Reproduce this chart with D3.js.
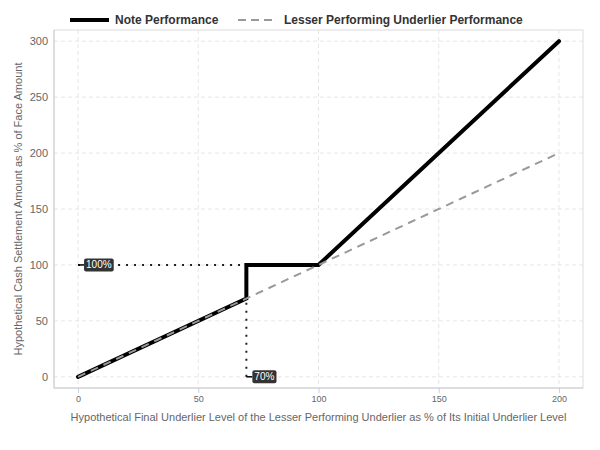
<!DOCTYPE html>
<html><head><meta charset="utf-8">
<script src="https://cdn.jsdelivr.net/npm/d3@7"></script>
<style>body{margin:0;background:#fff}svg{display:block;font-family:"Liberation Sans",Arial,sans-serif}</style>
</head><body><svg id="c" width="600" height="450"></svg>
<script>
const noteX = [0, 70, 70, 100, 200];
const noteY = [0, 70, 100, 100, 300];
const underX = [0, 200];
const underY = [0, 200];
const xTicks = [0, 50, 100, 150, 200];
const yTicks = [0, 50, 100, 150, 200, 250, 300];
const barrier = 70, faceLevel = 100;
const labelX = [0, 70];
const labelY = [100, 0];
const labelText = ["100%", "70%"];

const svg = d3.select("#c");
const L=54,R=583,T=30,B=388;
const x = d3.scaleLinear().domain([-10,210]).range([L,R]);
const y = d3.scaleLinear().domain([-10,310]).range([B,T]);

// grid
const g = svg.append("g");
g.selectAll(".gx").data(xTicks).join("line").attr("x1",d=>x(d)).attr("x2",d=>x(d)).attr("y1",T).attr("y2",B)
 .attr("stroke","#e0e0e0").attr("stroke-dasharray","4,3").attr("stroke-width",0.8);
g.selectAll(".gy").data(yTicks).join("line").attr("y1",d=>y(d)).attr("y2",d=>y(d)).attr("x1",L).attr("x2",R)
 .attr("stroke","#e0e0e0").attr("stroke-dasharray","4,3").attr("stroke-width",0.8);
svg.append("rect").attr("x",L).attr("y",T).attr("width",R-L).attr("height",B-T).attr("fill","none").attr("stroke","#dcdcdc");
svg.append("line").attr("x1",L).attr("x2",R).attr("y1",B).attr("y2",B).attr("stroke","#c9ced6");
svg.append("line").attr("x1",L).attr("x2",L).attr("y1",T).attr("y2",B).attr("stroke","#c9ced6");

// axes
const xa = svg.append("g").attr("transform",`translate(0,${B})`).attr("color","#666")
 .call(d3.axisBottom(x).tickValues(xTicks).tickSize(5).tickPadding(3));
xa.select(".domain").remove();
xa.selectAll("line").attr("stroke","#c9ced6");
xa.selectAll("text").attr("font-size",9);
const ya = svg.append("g").attr("transform",`translate(${L},0)`).attr("color","#666")
 .call(d3.axisLeft(y).tickValues(yTicks).tickSize(0).tickPadding(6));
ya.select(".domain").remove();
ya.selectAll("text").attr("font-size",11);

svg.append("text").attr("x",(L+R)/2).attr("y",421).attr("text-anchor","middle").attr("fill","#666").attr("font-size",11)
 .text("Hypothetical Final Underlier Level of the Lesser Performing Underlier as % of Its Initial Underlier Level");
svg.append("text").attr("transform",`translate(22,${(T+B)/2}) rotate(-90)`).attr("text-anchor","middle").attr("fill","#666").attr("font-size",11)
 .text("Hypothetical Cash Settlement Amount as % of Face Amount");

// dotted reference lines
svg.append("line").attr("x1",x(0)).attr("x2",x(barrier)).attr("y1",y(faceLevel)).attr("y2",y(faceLevel))
 .attr("stroke","#1a2333").attr("stroke-width",2).attr("stroke-dasharray","2,6");
svg.append("line").attr("x1",x(barrier)).attr("x2",x(barrier)).attr("y1",y(0)).attr("y2",y(faceLevel))
 .attr("stroke","#1a2333").attr("stroke-width",2).attr("stroke-dasharray","2,6");

const line = d3.line().x(d=>x(d[0])).y(d=>y(d[1]));
svg.append("path").datum(noteX.map((v,i)=>[v,noteY[i]])).attr("d",line).attr("fill","none")
 .attr("stroke","#000").attr("stroke-width",4).attr("stroke-linejoin","miter").attr("stroke-linecap","round");
svg.append("path").datum(underX.map((v,i)=>[v,underY[i]])).attr("d",line).attr("fill","none")
 .attr("stroke","#999").attr("stroke-width",2).attr("stroke-dasharray","8,6");

// labels
labelText.forEach((txt,i)=>{
  const px=x(labelX[i]), py=y(labelY[i]);
  const lg = svg.append("g");
  lg.append("line").attr("x1",px).attr("x2",px+6).attr("y1",py).attr("y2",py).attr("stroke","#000").attr("stroke-width",1.5);
  const r = lg.append("rect");
  const t = lg.append("text").attr("x",px+8).attr("y",py+3.5).attr("fill","#fff").attr("font-size",10).text(txt);
  const bb = t.node().getBBox();
  r.attr("x",bb.x-2).attr("y",py-6.5).attr("width",bb.width+4).attr("height",13).attr("rx",2).attr("fill","#333");
});

// legend
const lg = svg.append("g");
lg.append("line").attr("x1",70).attr("x2",109).attr("y1",20).attr("y2",20).attr("stroke","#000").attr("stroke-width",4);
lg.append("text").attr("x",115).attr("y",24).attr("font-size",12).attr("font-weight","bold").attr("fill","#333").text("Note Performance");
lg.append("line").attr("x1",238).attr("x2",276).attr("y1",20).attr("y2",20).attr("stroke","#999").attr("stroke-width",2).attr("stroke-dasharray","8,5");
lg.append("text").attr("x",284).attr("y",24).attr("font-size",12).attr("font-weight","bold").attr("fill","#333").text("Lesser Performing Underlier Performance");
</script></body></html>
